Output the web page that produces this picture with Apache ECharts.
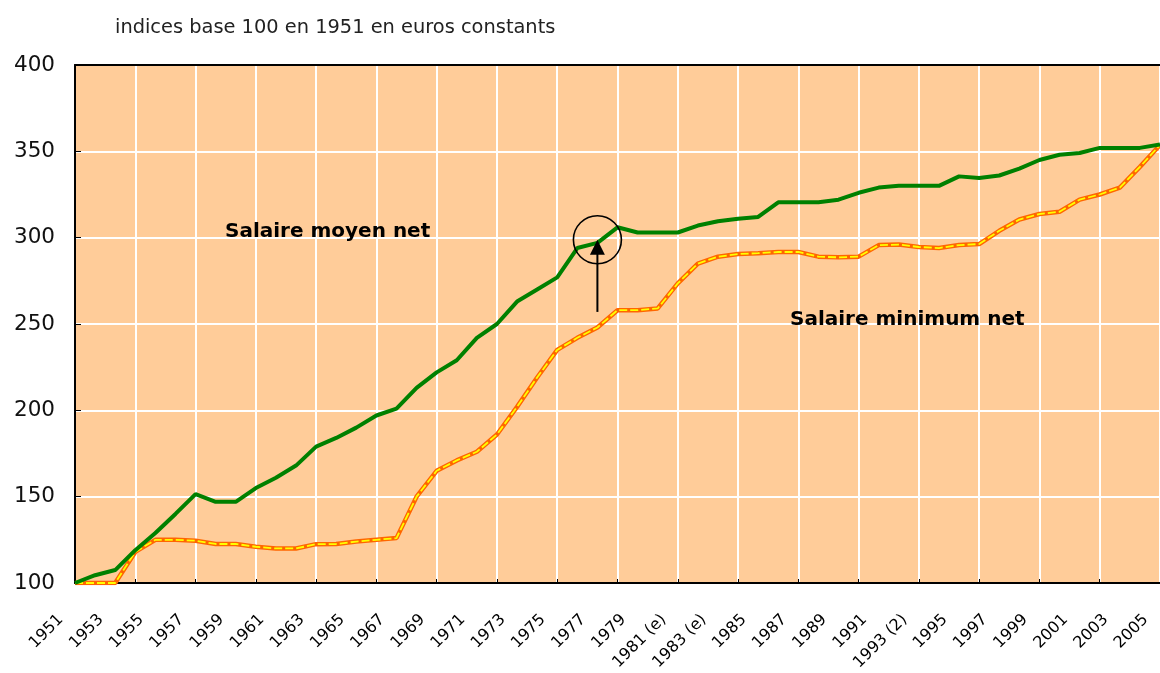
<!DOCTYPE html>
<html><head><meta charset="utf-8">
<script src="https://cdn.jsdelivr.net/npm/echarts@6/dist/echarts.min.js"></script>
<style>html,body{margin:0;padding:0;background:#fff}#c{width:1160px;height:673px}</style>
</head><body><div id="c"></div>
<script>
const years = ['1951','1952','1953','1954','1955','1956','1957','1958','1959','1960',
  '1961','1962','1963','1964','1965','1966','1967','1968','1969','1970',
  '1971','1972','1973','1974','1975','1976','1977','1978','1979','1980',
  '1981 (e)','1982','1983 (e)','1984','1985','1986','1987','1988','1989','1990',
  '1991','1992','1993 (2)','1994','1995','1996','1997','1998','1999','2000',
  '2001','2002','2003','2004','2005'];
const salaireMoyenNet = [100,104.5,107.5,119,129,140,151.5,147,147,155,
  161,168,179,184,190,197,201,213,222,229,
  242,250,263,270,277,294,297,306,303,303,
  303,307,309.5,311,312,320.5,320.5,320.5,322,326,
  329,330,330,330,335.5,334.5,336,340,345,348,
  349,352,352,352,354];
const salaireMinimumNet = [100,100,100,118,125,125,124.5,122.6,122.6,121,
  120,120,122.5,122.6,124,125,126,150,165,171,
  176,186,202,219,235,242,248,258,258,259,
  273.5,285,289,290.5,291,291.7,291.7,289,288.6,289,
  295.7,296,294.6,294,295.7,296.3,304,310.5,313.7,315,
  322,325,329,341,353.7];
const yMin = 100, yMax = 400, yStep = 50;
const titleText = 'indices base 100 en 1951 en euros constants';
const labelMoyen = 'Salaire moyen net';
const labelMinimum = 'Salaire minimum net';
// annotation: circle around the 1977/78 point and arrow (category index, value)
const circlePoint = [26.3, 298.8];
const arrowFrom = [26.3, 257];

const chart = echarts.init(document.getElementById('c'), null, {renderer:'canvas'});
chart.setOption({
  animation: false,
  backgroundColor: '#ffffff',
  title: {
    text: titleText, left: 115, top: 18, padding: 0,
    textStyle: {fontFamily: 'DejaVu Sans, sans-serif', fontSize: 19.4, fontWeight: 'normal', color: '#222'}
  },
  grid: {left: 75, right: 0, top: 65, bottom: 90, show: true, backgroundColor: '#FFCC99', borderWidth: 0,
    containLabel: false, outerBoundsMode: 'none'},
  xAxis: [{
    type: 'category', data: years, boundaryGap: false,
    axisLine: {lineStyle: {color: '#000', width: 2}},
    axisTick: {inside: true, interval: 2, length: 4, lineStyle: {color: '#000', width: 1}},
    axisLabel: {interval: 1, rotate: 45, margin: 20, padding: [0, 20, 0, 0], fontFamily: 'DejaVu Sans, sans-serif', fontSize: 16, color: '#000'},
    splitLine: {show: true, interval: 2, lineStyle: {color: '#ffffff', width: 2}}
  }, {
    type: 'category', data: years, boundaryGap: false, position: 'top',
    axisLine: {lineStyle: {color: '#000', width: 2}},
    axisTick: {show: false}, axisLabel: {show: false}, splitLine: {show: false}
  }],
  yAxis: {
    type: 'value', min: yMin, max: yMax, interval: yStep,
    axisLine: {show: true, lineStyle: {color: '#000', width: 2}},
    axisTick: {show: true, inside: true, length: 6, lineStyle: {color: '#000'}},
    axisLabel: {margin: 20, fontFamily: 'DejaVu Sans, sans-serif', fontSize: 21.5, color: '#111'},
    splitLine: {show: true, lineStyle: {color: '#ffffff', width: 2}}
  },
  series: [
    {type: 'line', data: salaireMinimumNet, symbol: 'none', lineStyle: {color: '#FF6600', width: 4.5}, z: 3},
    {type: 'line', data: salaireMinimumNet, symbol: 'none', lineStyle: {color: '#FFFF00', width: 1.8, type: [8, 3]}, z: 4},
    {type: 'line', data: salaireMoyenNet, symbol: 'none', lineStyle: {color: '#008000', width: 4}, z: 5}
  ]
});

const c = chart.convertToPixel({gridIndex: 0}, circlePoint);
const a = chart.convertToPixel({gridIndex: 0}, arrowFrom);
chart.setOption({
  graphic: [
    {type: 'text', left: 225, top: 222, z: 100,
      style: {text: labelMoyen, fontFamily: 'DejaVu Sans, sans-serif', fontWeight: 'bold', fontSize: 20, fill: '#000'}},
    {type: 'text', left: 790, top: 310, z: 100,
      style: {text: labelMinimum, fontFamily: 'DejaVu Sans, sans-serif', fontWeight: 'bold', fontSize: 20, fill: '#000'}},
    {type: 'circle', z: 100, shape: {cx: c[0], cy: c[1], r: 24}, style: {fill: 'none', stroke: '#000', lineWidth: 1.6}},
    {type: 'line', z: 100, shape: {x1: a[0], y1: a[1], x2: c[0], y2: c[1] + 14}, style: {stroke: '#000', lineWidth: 2}},
    {type: 'polygon', z: 100, shape: {points: [[c[0], c[1]], [c[0] - 7.5, c[1] + 15], [c[0] + 7.5, c[1] + 15]]}, style: {fill: '#000'}}
  ]
});
</script>
</body></html>
